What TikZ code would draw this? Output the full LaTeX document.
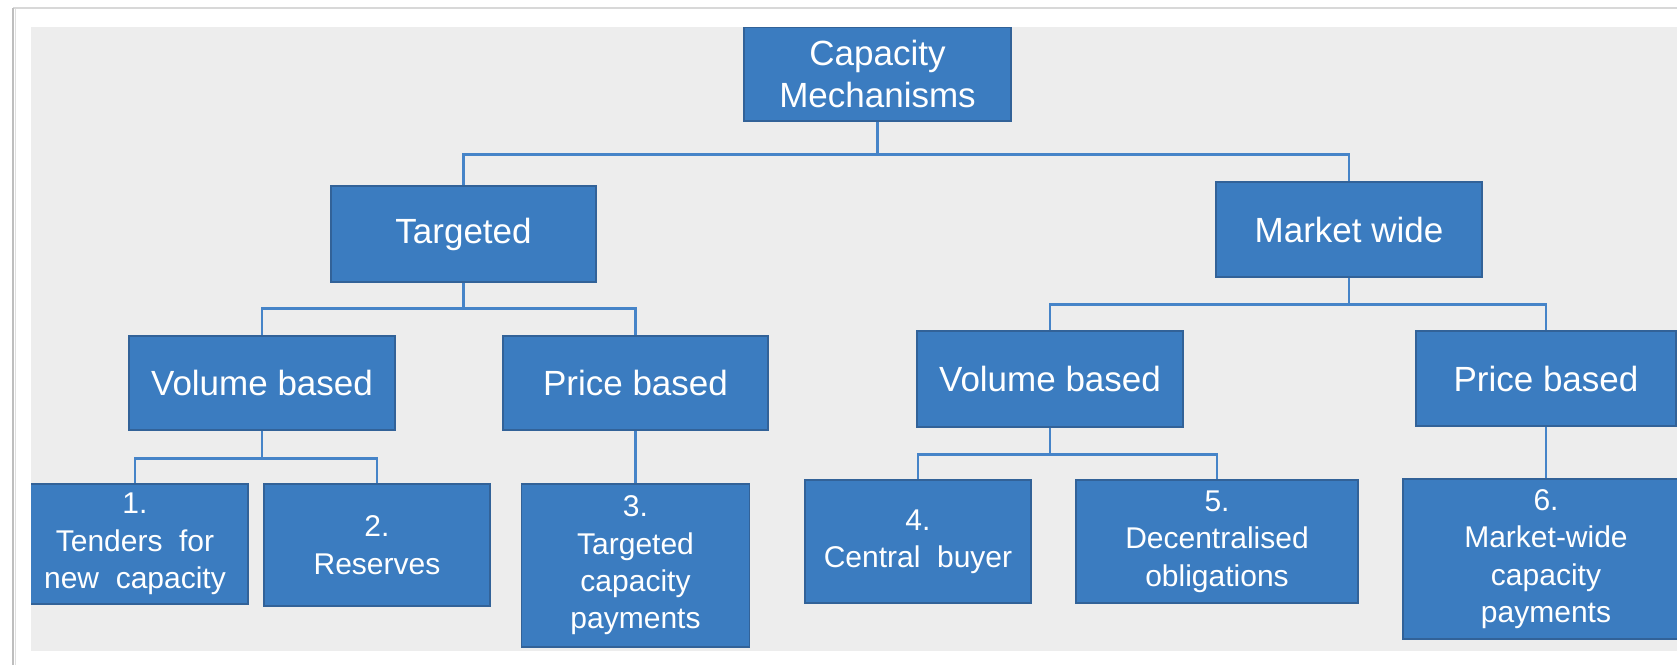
\documentclass[tikz,border=0pt]{standalone}
\usepackage{fontspec}
\setmainfont{Liberation Sans}
\definecolor{boxblue}{RGB}{59,124,192}
\definecolor{boxedge}{RGB}{50,98,152}
\definecolor{linkblue}{RGB}{70,132,200}
\definecolor{panel}{RGB}{237,237,237}
\definecolor{shadow}{RGB}{190,190,190}
\begin{document}
\begin{tikzpicture}[x=0.5pt, y=-0.5pt,
  box/.style={rectangle, fill=boxblue, draw=boxedge, line width=0.7pt,
    text=white, align=center, inner sep=0pt},
  bigbox/.style={box, font=\fontsize{17.5}{21}\selectfont},
  smallbox/.style={box, font=\fontsize{15}{18.7}\selectfont},
  link/.style={draw=linkblue, line width=1.25pt}]
% page and frame
\useasboundingbox (0,0) rectangle (1677,665);
\fill[white] (0,0) rectangle (1677,665);
\draw[shadow!60, line width=0.6pt] (13,8) -- (1677,8);
\draw[shadow, line width=1.4pt] (13,8) -- (13,665);
\draw[shadow!50, line width=0.8pt] (15.5,9) -- (15.5,665);
\fill[panel] (31,27) rectangle (1677,651);
\begin{scope}
\clip (31,27) rectangle (1677,651);
% tree nodes
\node[bigbox, minimum width=133.5pt, minimum height=47pt] (cm) at (877.5,74) {Capacity\\Mechanisms};
\node[bigbox, minimum width=132.5pt, minimum height=48pt] (tg) at (463.5,234) {Targeted};
\node[bigbox, minimum width=133pt, minimum height=47.5pt] (mw) at (1349,229.5) {Market wide};
\node[bigbox, minimum width=133pt, minimum height=47pt] (vl) at (262,383) {Volume based};
\node[bigbox, minimum width=132.5pt, minimum height=47pt] (pl) at (635.5,383) {Price based};
\node[bigbox, minimum width=133pt, minimum height=48pt] (vr) at (1050,379) {Volume based};
\node[bigbox, minimum width=130pt, minimum height=47.5pt] (pr) at (1546,378.5) {Price based};
\node[smallbox, minimum width=113pt, minimum height=60pt] (n1) at (135,544) {1.\\Tenders\ \ for\\new\ \ capacity};
\node[smallbox, minimum width=113pt, minimum height=61pt] (n2) at (377,545) {2.\\Reserves};
\node[smallbox, minimum width=114pt, minimum height=81.5pt] (n3) at (635.5,565.5) {3.\\Targeted\\capacity\\payments};
\node[smallbox, minimum width=113pt, minimum height=61.5pt] (n4) at (918,541.5) {4.\\Central\ \ buyer};
\node[smallbox, minimum width=141pt, minimum height=61.5pt] (n5) at (1217,541.5) {5.\\Decentralised\\obligations};
\node[smallbox, minimum width=143pt, minimum height=80pt] (n6) at (1546,559) {6.\\Market-wide\\capacity\\payments};
% connectors
\path[link] (cm.south) -- ++(0,33) -| (tg.north);
\path[link] (cm.south) -- ++(0,33) -| (mw.north);
\path[link] (tg.south) -- ++(0,26) -| (vl.north);
\path[link] (tg.south) -- ++(0,26) -| (pl.north);
\path[link] (mw.south) -- ++(0,27) -| (vr.north);
\path[link] (mw.south) -- ++(0,27) -| (pr.north);
\path[link] (vl.south) -- ++(0,28) -| (n1.north);
\path[link] (vl.south) -- ++(0,28) -| (n2.north);
\path[link] (pl.south) -- (n3.north);
\path[link] (vr.south) -- ++(0,27) -| (n4.north);
\path[link] (vr.south) -- ++(0,27) -| (n5.north);
\path[link] (pr.south) -- (n6.north);
\end{scope}
\end{tikzpicture}
\end{document}
